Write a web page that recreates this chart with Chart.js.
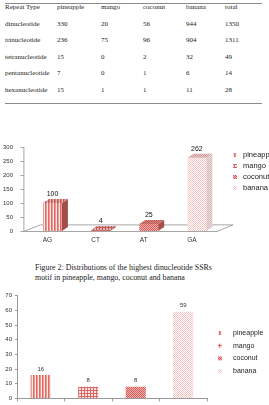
<!DOCTYPE html>
<html>
<head>
<meta charset="utf-8">
<script src="https://cdn.jsdelivr.net/npm/chart.js@4.4.0/dist/chart.umd.min.js"></script>
<style>
body{margin:0;width:269px;height:405px;overflow:hidden;background:#fff;position:relative;font-family:"Liberation Serif",serif;color:#222}
.rule{position:absolute;left:5px;width:257px;height:1px;background:#8a8a8a}
#tbl{position:absolute;left:5px;top:-1.3px;border-collapse:collapse;font-size:7px}
#tbl td{height:16.6px;padding:0;vertical-align:middle;white-space:nowrap}
#cap{position:absolute;left:35px;top:263px;font-size:7.9px;line-height:10px;white-space:nowrap}
canvas{position:absolute;left:0}
#chart1{top:128px}
#chart2{top:288px}
</style>
</head>
<body>
<div class="rule" style="top:3px"></div>
<table id="tbl"></table>
<div class="rule" style="top:103px"></div>
<div id="cap">Figure 2: Distributions of the highest dinucleotide SSRs<br>motif in pineapple, mango, coconut and banana</div>
<canvas id="chart1" width="269" height="122"></canvas>
<canvas id="chart2" width="269" height="117"></canvas>
<script>
// table data
const tableHeader = ['Repeat Type', 'pineapple', 'mango', 'coconut', 'banana', 'total'];
const repeatTypes = ['dinucleotide', 'trinucleotide', 'tetranucleotide', 'pentanucleotide', 'hexanucleotide'];
const tPineapple = [330, 236, 15, 7, 15];
const tMango = [20, 75, 0, 0, 1];
const tCoconut = [56, 96, 2, 1, 1];
const tBanana = [944, 904, 32, 6, 11];
const tTotal = [1350, 1311, 49, 14, 28];

// chart 1 (3d bars)
const categories1 = ['AG', 'CT', 'AT', 'GA'];
const pineapple1 = [100, null, null, null];
const mango1 = [null, 4, null, null];
const coconut1 = [null, null, 25, null];
const banana1 = [null, null, null, 262];

// chart 2
const categories2 = ['', '', '', ''];
const pineapple2 = [16, null, null, null];
const mango2 = [null, 8, null, null];
const coconut2 = [null, null, 8, null];
const banana2 = [null, null, null, 59];

const seriesNames = ['pineapple', 'mango', 'coconut', 'banana'];

// build the table
const colW = [52, 44, 42, 43, 39, 37];
const tbl = document.getElementById('tbl');
let rows = [tableHeader];
repeatTypes.forEach((r, i) => rows.push([r, tPineapple[i], tMango[i], tCoconut[i], tBanana[i], tTotal[i]]));
rows.forEach(r => {
  const tr = document.createElement('tr');
  r.forEach((v, k) => {
    const td = document.createElement('td');
    td.style.width = colW[k] + 'px';
    td.textContent = v;
    tr.appendChild(td);
  });
  tbl.appendChild(tr);
});

// small fill patterns
function pattern(w, h, draw) {
  const cv = document.createElement('canvas');
  cv.width = w; cv.height = h;
  const g = cv.getContext('2d');
  draw(g);
  return g.createPattern(cv, 'repeat');
}
const pinePat = pattern(3, 1, g => {
  g.fillStyle = '#e06a64'; g.fillRect(0, 0, 1, 1);
  g.fillStyle = '#ee9a95'; g.fillRect(1, 0, 1, 1);
  g.fillStyle = '#fde8e6'; g.fillRect(2, 0, 1, 1);
});
const mangoPat = pattern(3, 3, g => {
  g.fillStyle = '#fbe3e1'; g.fillRect(0, 0, 3, 3);
  g.fillStyle = '#dc6762'; g.fillRect(0, 0, 1, 3); g.fillRect(0, 0, 3, 1);
});
const cocoPat = pattern(2, 2, g => {
  g.fillStyle = '#f4b3af'; g.fillRect(0, 0, 2, 2);
  g.fillStyle = '#d65a55'; g.fillRect(0, 0, 1, 1); g.fillRect(1, 1, 1, 1);
});
const bananaPat = pattern(2, 2, g => {
  g.fillStyle = '#ffffff'; g.fillRect(0, 0, 2, 2);
  g.fillStyle = '#f5c2c0'; g.fillRect(0, 0, 1, 1); g.fillRect(1, 1, 1, 1);
});
const bananaSide = pattern(2, 2, g => {
  g.fillStyle = '#f0e2e2'; g.fillRect(0, 0, 2, 2);
  g.fillStyle = '#d6b4b4'; g.fillRect(0, 0, 1, 1); g.fillRect(1, 1, 1, 1);
});
const fills = [pinePat, mangoPat, cocoPat, bananaPat];
const sides = ['#a14c48', '#9a4b47', '#a3524e', bananaSide];

const dx = 6, dy = 4;

const bar3d = {
  id: 'bar3d',
  beforeDatasetsDraw(chart) {
    const a = chart.chartArea, c = chart.ctx;
    c.save();
    c.strokeStyle = '#a6a6a6';
    c.lineWidth = 1;
    // floor
    c.beginPath();
    c.moveTo(a.left - 5, a.bottom + 0.5);
    c.lineTo(a.right - 4, a.bottom + 0.5);
    c.lineTo(a.right + 12, a.bottom - 6.1);
    c.lineTo(a.left + 12, a.bottom - 6.1);
    c.closePath();
    c.stroke();
    // left axis with ticks
    const ys = chart.scales.y;
    c.beginPath();
    c.moveTo(a.left - 4.5, a.top);
    c.lineTo(a.left - 4.5, a.bottom);
    ys.ticks.forEach((t, i) => {
      const py = Math.round(ys.getPixelForTick(i)) + 0.5;
      c.moveTo(a.left - 8, py);
      c.lineTo(a.left - 4.5, py);
    });
    c.stroke();
    c.restore();
  },
  afterDatasetsDraw(chart) {
    const c = chart.ctx;
    c.save();
    chart.data.datasets.forEach((ds, i) => {
      chart.getDatasetMeta(i).data.forEach((bar, j) => {
        if (ds.data[j] == null) return;
        const p = bar.getProps(['x', 'y', 'base', 'width'], true);
        const l = p.x - p.width / 2, r = p.x + p.width / 2;
        c.fillStyle = sides[i];
        c.beginPath();
        c.moveTo(r, p.y); c.lineTo(r + dx, p.y - dy); c.lineTo(r + dx, p.base - dy); c.lineTo(r, p.base);
        c.closePath(); c.fill();
        c.fillStyle = fills[i];
        c.beginPath();
        c.moveTo(l, p.y); c.lineTo(l + dx, p.y - dy); c.lineTo(r + dx, p.y - dy); c.lineTo(r, p.y);
        c.closePath(); c.fill();
        c.fillStyle = 'rgba(120,40,40,0.25)';
        c.fill();
        c.fillStyle = '#111';
        c.font = '7px "Liberation Sans"';
        c.textAlign = 'center';
        c.textBaseline = 'middle';
        c.fillText(ds.data[j], p.x, p.y - dy - 5);
      });
    });
    c.restore();
  }
};

function legend(mx, tx, y0, step, font) {
  return {
    id: 'legendRight',
    afterDraw(chart) {
      const c = chart.ctx;
      c.save();
      chart.data.datasets.forEach((ds, i) => {
        const y = y0 + i * step;
        c.fillStyle = fills[i];
        c.fillRect(mx - 2, y - 2, 4, 4);
        c.fillStyle = '#222';
        c.font = font;
        c.textAlign = 'left';
        c.textBaseline = 'middle';
        c.fillText(ds.label, tx, y);
      });
      c.restore();
    }
  };
}

const values2 = {
  id: 'values2',
  afterDatasetsDraw(chart) {
    const c = chart.ctx;
    c.save();
    chart.data.datasets.forEach((ds, i) => {
      chart.getDatasetMeta(i).data.forEach((bar, j) => {
        if (ds.data[j] == null) return;
        c.fillStyle = '#333';
        c.font = '6px "Liberation Sans"';
        c.textAlign = 'center';
        c.textBaseline = 'middle';
        c.fillText(ds.data[j], bar.x, bar.y - 6);
      });
    });
    c.restore();
  }
};

function makeSets(lists) {
  return lists.map((d, i) => ({
    label: seriesNames[i],
    data: d,
    backgroundColor: fills[i],
    borderWidth: 0,
    skipNull: true
  }));
}

new Chart(document.getElementById('chart1'), {
  type: 'bar',
  data: {
    labels: categories1,
    datasets: makeSets([pineapple1, mango1, coconut1, banana1])
  },
  options: {
    responsive: false,
    animation: false,
    layout: { padding: { top: 7.7, right: 48, left: 0, bottom: 0 } },
    categoryPercentage: 0.8,
    barPercentage: 0.49,
    plugins: { legend: { display: false }, tooltip: { enabled: false } },
    scales: {
      x: {
        grid: { display: false, tickLength: 0 },
        border: { display: false },
        ticks: { color: '#333', font: { family: 'Liberation Sans', size: 6.5 }, padding: 5, labelOffset: -5 },
        afterFit: s => { s.height = 16.7; }
      },
      y: {
        min: 0, max: 300,
        grid: { display: false, tickLength: 0 },
        border: { display: false },
        ticks: { stepSize: 50, color: '#333', font: { family: 'Liberation Sans', size: 6 }, padding: 15.4 },
        afterFit: s => { s.width = 28.4; }
      }
    }
  },
  plugins: [bar3d, legend(235, 243, 27, 11, '7.5px "Liberation Sans"')]
});

new Chart(document.getElementById('chart2'), {
  type: 'bar',
  data: {
    labels: categories2,
    datasets: makeSets([pineapple2, mango2, coconut2, banana2])
  },
  options: {
    responsive: false,
    animation: false,
    layout: { padding: { top: 7.7, right: 62, left: 0, bottom: 0 } },
    categoryPercentage: 0.8,
    barPercentage: 0.53,
    plugins: { legend: { display: false }, tooltip: { enabled: false } },
    scales: {
      x: {
        grid: { drawOnChartArea: false, tickLength: 3, color: '#999' },
        border: { color: '#999' },
        ticks: { display: false },
        afterFit: s => { s.height = 4; }
      },
      y: {
        min: 0, max: 70,
        grid: { drawOnChartArea: false, tickLength: 2, color: '#999' },
        border: { color: '#999' },
        ticks: { stepSize: 10, color: '#333', font: { family: 'Liberation Sans', size: 6 }, padding: 3 },
        afterFit: s => { s.width = 17; }
      }
    }
  },
  plugins: [values2, legend(220, 233, 45, 12.7, '7px "Liberation Sans"')]
});
</script>
</body>
</html>
